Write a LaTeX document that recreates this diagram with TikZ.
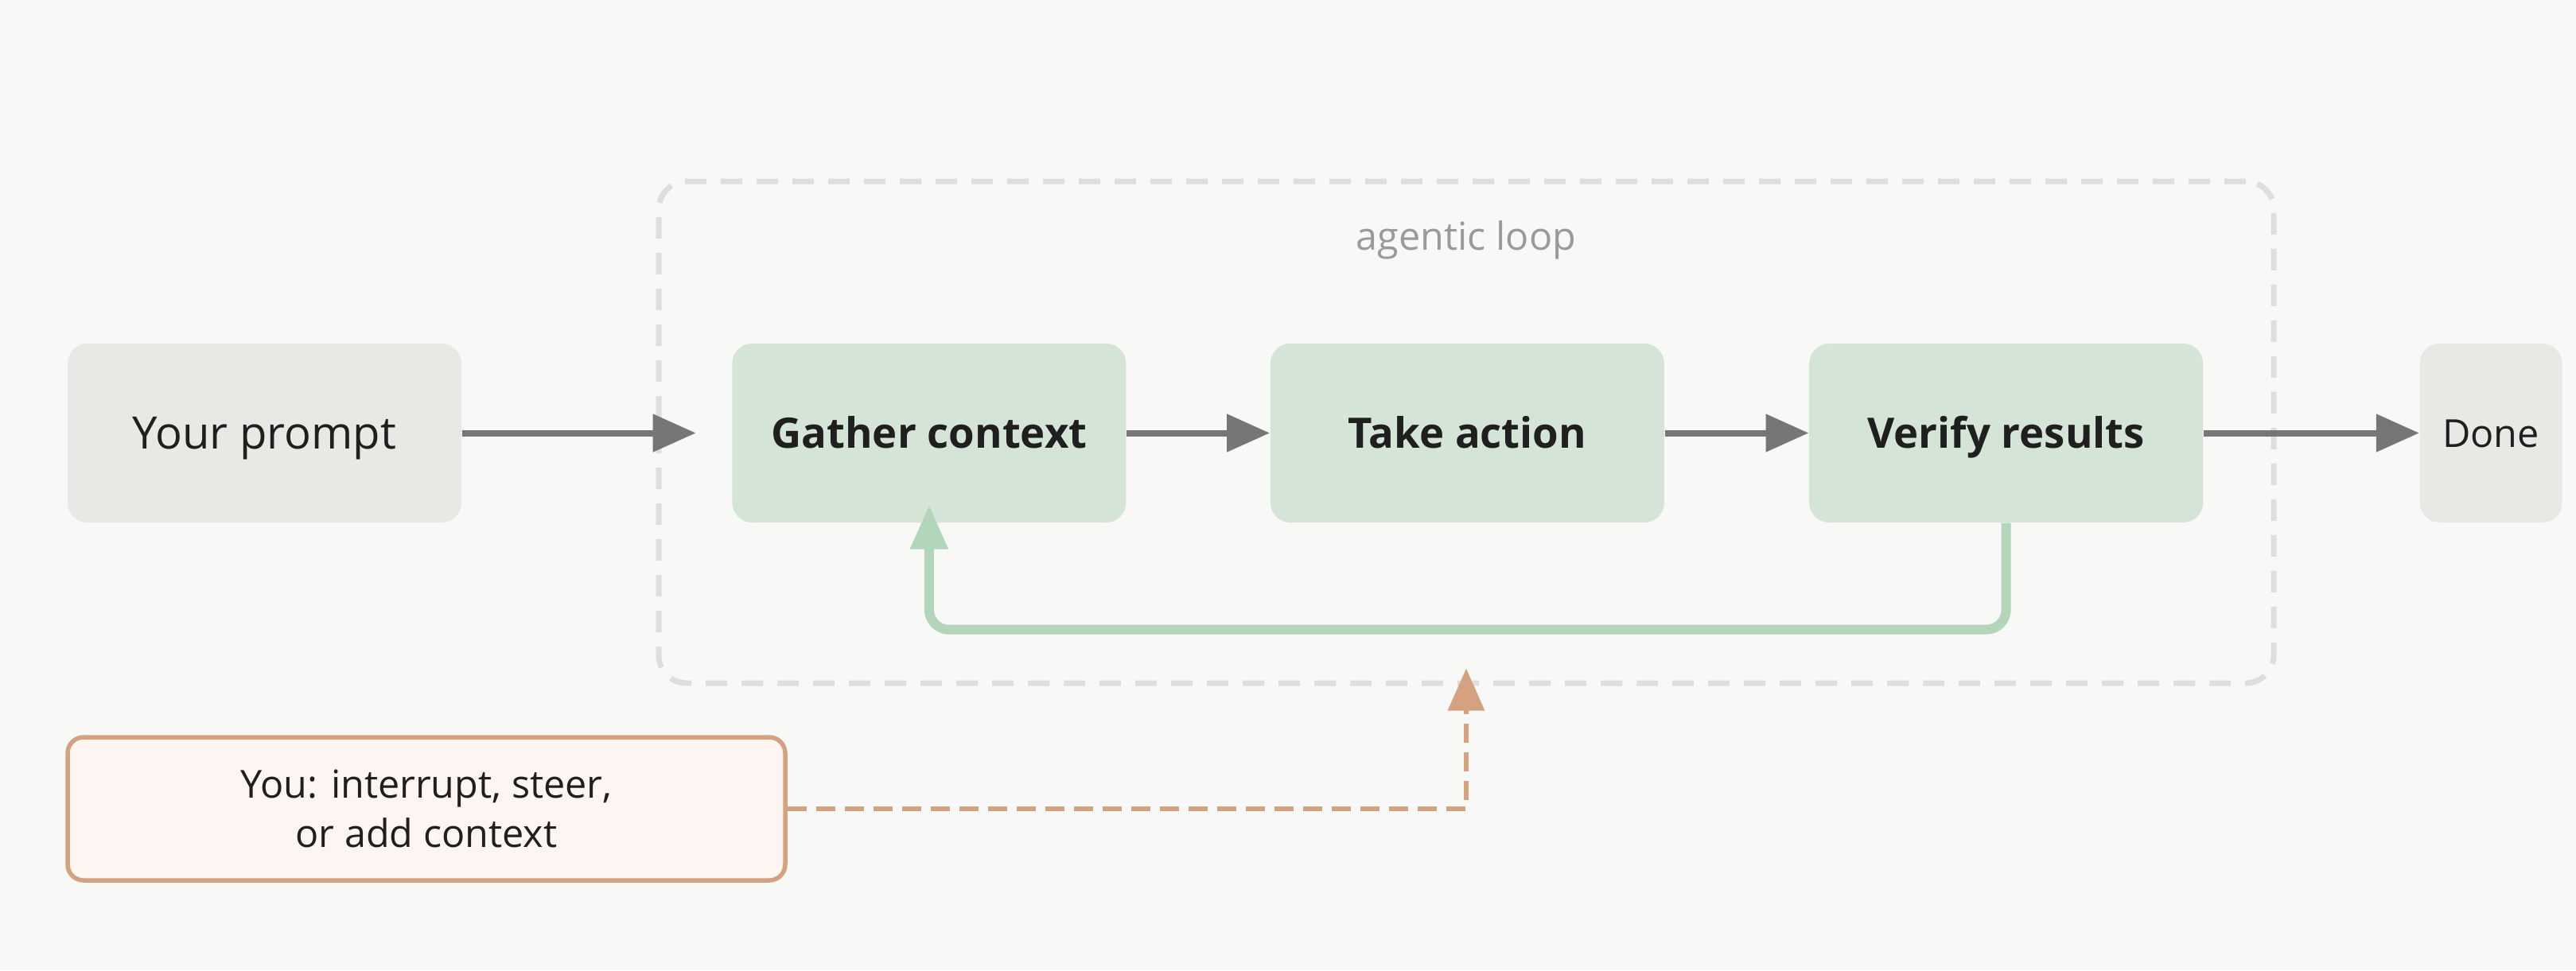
\documentclass[tikz,border=0pt]{standalone}
\usepackage{fontspec}
\setmainfont{Open Sans}
\usepackage{xcolor}
\usepackage{tikz}
\usetikzlibrary{arrows.meta,positioning,calc}
\definecolor{PaperBg}{HTML}{F8F8F6}
\definecolor{StoneGray}{HTML}{E8E8E4}
\definecolor{LoopGreen}{HTML}{D4E5D8}
\definecolor{BackGreen}{HTML}{B3D5BA}
\definecolor{ArrowGray}{HTML}{767676}
\definecolor{DashGray}{HTML}{DEDEDE}
\definecolor{LabelGray}{HTML}{9A9A9A}
\definecolor{InkBlack}{HTML}{1F1F1F}
\definecolor{SteerOrange}{HTML}{D4A27F}
\definecolor{SteerFill}{HTML}{FDF5F2}

\begin{document}
\begin{tikzpicture}[
  graybox/.style={fill=StoneGray,rounded corners=.25cm,minimum height=2.25cm,inner sep=0pt,text=InkBlack},
  stepbox/.style={fill=LoopGreen,rounded corners=.25cm,minimum width=4.95cm,minimum height=2.25cm,inner sep=0pt,text=InkBlack,text height=.377cm,text depth=0pt,font=\fontsize{15}{18}\selectfont\bfseries},
  flow/.style={-{Triangle[length=.54cm,width=.46cm]},line width=.08cm,draw=ArrowGray}]
\fill[PaperBg] (0,0) rectangle (32.38,-12.2);
\useasboundingbox (0,0) rectangle (32.38,-12.2);
% loop frame
\node[draw=DashGray,line width=.07cm,dash pattern=on .27cm off .18cm,rounded corners=.35cm,minimum width=20.3cm,minimum height=6.31cm,inner sep=0pt] (loop) at (18.43,-5.435) {};
\node[anchor=base,text=LabelGray,font=\fontsize{13.8}{16}\selectfont] (looplabel) at ($(loop.north)+(0,-.9)$) {agentic loop};
% main row
\node[graybox,minimum width=4.95cm,text height=.4cm,text depth=0pt,font=\fontsize{16}{19}\selectfont] (prompt) at (3.325,-5.445) {Your prompt};
\node[stepbox,right=3.39cm of prompt] (gather) {Gather context};
\node[stepbox,right=1.8cm of gather] (take) {Take action};
\node[stepbox,right=1.81cm of take] (verify) {Verify results};
\node[graybox,minimum width=1.79cm,text height=.35cm,text depth=0pt,font=\fontsize{13.8}{16}\selectfont,right=2.71cm of verify] (done) {Done};
\coordinate[left=.45cm of gather.west] (loopin);
\draw[flow] (prompt)--(loopin);\draw[flow] (gather)--(take);\draw[flow] (take)--(verify);\draw[flow] (verify)--(done);
% feedback
\draw[-{Triangle[length=.56cm,width=.45cm]},line width=.12cm,draw=BackGreen,rounded corners=.25cm] (verify.south)--++(0,-1.34)-|($(gather.south)+(0,.23)$);
% steering
\node[draw=SteerOrange,fill=SteerFill,line width=.055cm,rounded corners=.2cm,minimum width=9.02cm,minimum height=1.8cm,inner sep=0pt,align=center,text=InkBlack,font=\fontsize{13.8}{17.6}\selectfont] (you) at (5.36,-10.17) {You: interrupt, steer,\\or add context};
\draw[-{Triangle[length=.53cm,width=.45cm]},line width=.065cm,draw=SteerOrange,dash pattern=on .24cm off .12cm] (you.east)-|($(loop.south)+(0,.22)$);
\end{tikzpicture}
\end{document}
